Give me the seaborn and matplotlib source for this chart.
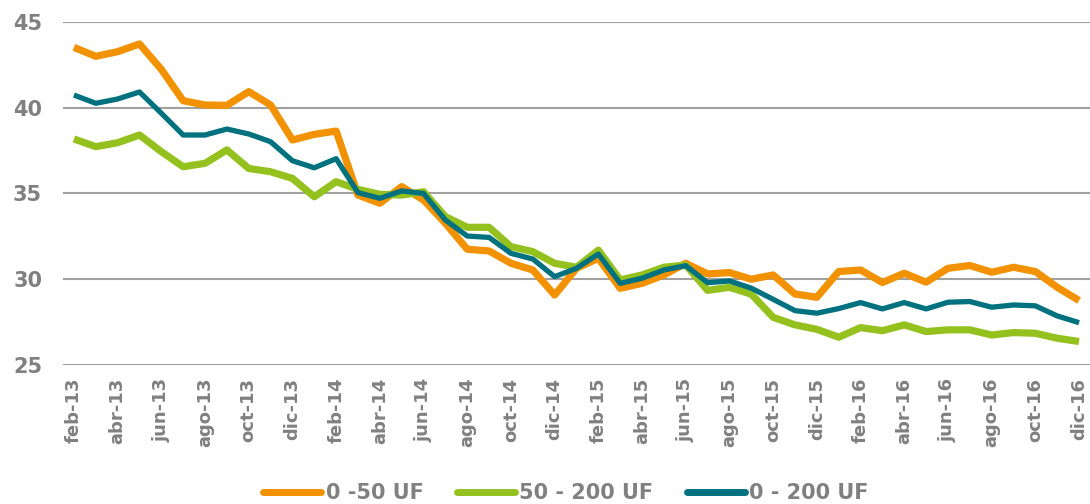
import matplotlib
matplotlib.use("Agg")
import matplotlib.pyplot as plt
import pandas as pd
import seaborn as sns

meses = ["feb-13", "mar-13", "abr-13", "may-13", "jun-13", "jul-13", "ago-13", "sep-13",
         "oct-13", "nov-13", "dic-13",
         "ene-14", "feb-14", "mar-14", "abr-14", "may-14", "jun-14", "jul-14", "ago-14",
         "sep-14", "oct-14", "nov-14", "dic-14",
         "ene-15", "feb-15", "mar-15", "abr-15", "may-15", "jun-15", "jul-15", "ago-15",
         "sep-15", "oct-15", "nov-15", "dic-15",
         "ene-16", "feb-16", "mar-16", "abr-16", "may-16", "jun-16", "jul-16", "ago-16",
         "sep-16", "oct-16", "nov-16", "dic-16"]

uf_0_50 = [43.52, 43.00, 43.27, 43.72, 42.24, 40.41, 40.16, 40.14, 40.94, 40.16, 38.12,
           38.45, 38.64, 34.91, 34.43, 35.40, 34.62, 33.26, 31.75, 31.65, 30.93, 30.54,
           29.08, 30.64, 31.22, 29.47, 29.76, 30.25, 30.93, 30.31, 30.39, 30.00, 30.25,
           29.14, 28.95, 30.45, 30.54, 29.81, 30.35, 29.83, 30.64, 30.80, 30.41, 30.70,
           30.45, 29.53, 28.76]

uf_50_200 = [38.18, 37.73, 37.96, 38.41, 37.44, 36.56, 36.76, 37.54, 36.46, 36.27, 35.88,
             34.81, 35.69, 35.24, 34.95, 34.91, 35.10, 33.65, 33.03, 33.03, 31.90, 31.61,
             30.93, 30.70, 31.70, 29.96, 30.25, 30.70, 30.83, 29.35, 29.53, 29.13, 27.78,
             27.34, 27.08, 26.62, 27.18, 27.00, 27.34, 26.95, 27.05, 27.05, 26.75, 26.89,
             26.85, 26.56, 26.37]

uf_0_200 = [40.74, 40.26, 40.51, 40.92, 39.68, 38.41, 38.41, 38.76, 38.47, 38.02, 36.91,
            36.50, 37.03, 35.05, 34.72, 35.15, 35.00, 33.45, 32.52, 32.44, 31.51, 31.18,
            30.15, 30.64, 31.47, 29.76, 30.06, 30.54, 30.79, 29.80, 29.90, 29.48, 28.83,
            28.17, 28.02, 28.29, 28.64, 28.27, 28.64, 28.27, 28.66, 28.70, 28.37, 28.50,
            28.45, 27.86, 27.47]

series_names = ["0 -50 UF", "50 - 200 UF", "0 - 200 UF"]
series_values = [uf_0_50, uf_50_200, uf_0_200]
colors = ["#F39200", "#95C11F", "#00717F"]
widths = [5.2, 5.2, 3.8]

y_ticks = [25, 30, 35, 40, 45]

sns.set_theme(style="white")
plt.rcParams["font.family"] = ["DejaVu Sans"]

gray = "#808080"
fig = plt.figure(figsize=(10.9, 5.04), dpi=100)
ax = fig.add_axes([63 / 1090, 1 - 365 / 504, (1090 - 63) / 1090, (365 - 22) / 504])

for name, vals, col, lw in zip(series_names, series_values, colors, widths):
    df = pd.DataFrame({"idx": range(len(meses)), "valor": vals})
    sns.lineplot(data=df, x="idx", y="valor", color=col, linewidth=lw, label=name,
                 ax=ax, solid_joinstyle="round", solid_capstyle="butt", legend=False)

ax.set_xlim(-0.5, len(meses) - 0.5)
ax.set_ylim(25, 45)
ax.set_yticks(y_ticks)
ax.set_yticklabels([str(v) for v in y_ticks], fontsize=15, fontweight="bold", color=gray)
ax.set_xticks(range(0, len(meses), 2))
ax.set_xticklabels(meses[::2], rotation=90, fontsize=13, fontweight="bold", color=gray)
ax.tick_params(axis="x", length=0, pad=9)
ax.tick_params(axis="y", length=0, pad=15)
ax.set_xlabel("")
ax.set_ylabel("")
ax.grid(axis="y", color="#A0A0A0", linewidth=1.5)
ax.grid(axis="x", visible=False)
for s in ax.spines.values():
    s.set_visible(False)
ax.set_axisbelow(True)

handles, labels = ax.get_legend_handles_labels()
leg = fig.legend(handles, labels, loc="center", bbox_to_anchor=(566 / 1090, 1 - 493 / 504),
                 ncol=3, frameon=False, handlelength=2.8, handletextpad=0.2,
                 columnspacing=1.6, prop={"size": 15, "weight": "bold"}, labelcolor=gray)
for ln in leg.get_lines():
    ln.set_solid_capstyle("round")
    ln.set_linewidth(5.0)

fig.savefig("out.png", dpi=100)
